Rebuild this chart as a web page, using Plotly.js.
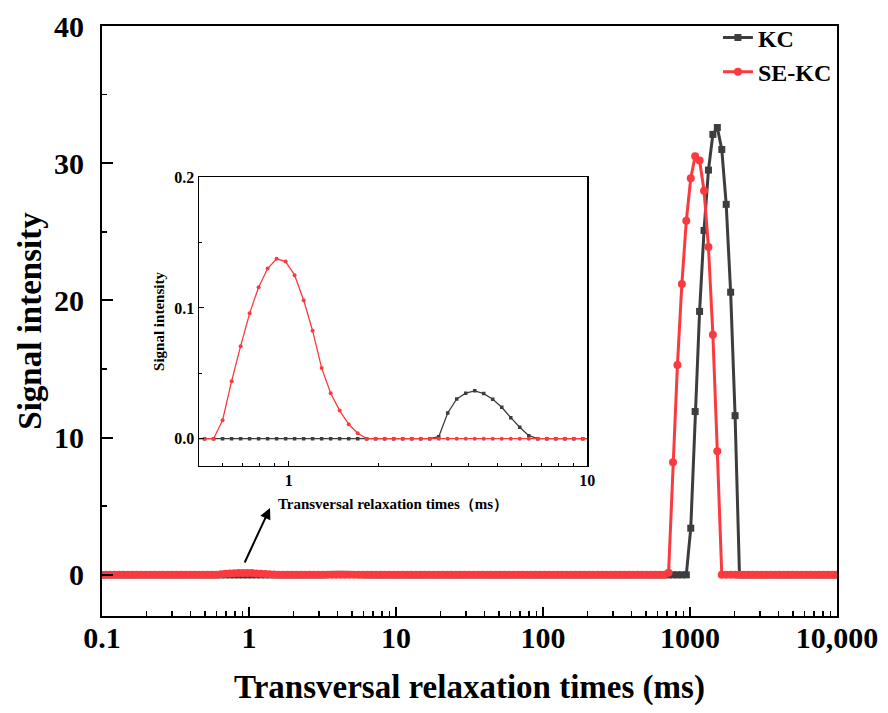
<!DOCTYPE html>
<html>
<head>
<meta charset="utf-8">
<script src="https://cdn.plot.ly/plotly-3.0.1.min.js"></script>
<style>html,body{margin:0;padding:0;background:#fff;}#chart{width:888px;height:713px;}</style>
</head>
<body>
<div id="chart"></div>
<script>
// Transverse relaxation time grid (ms)
var t2 = [
  0.09885,0.1060,0.1136,0.1217,0.1305,0.1399,0.1499,0.1607,0.1723,0.1846,0.1979,0.2122,0.2274,0.2438,0.2613,0.2801,0.3002,0.3218,0.3449,0.3697,0.3963,0.4248,0.4553,0.4880,0.5231,0.5607,0.6010,0.6443,0.6906,0.7402,0.7934,0.8505,0.9116,0.9772,
  1.047,1.123,1.203,1.290,1.383,1.482,1.589,1.703,1.825,1.956,2.097,2.248,2.409,2.583,2.768,2.967,3.181,3.409,3.654,3.917,4.199,4.500,4.824,5.171,5.542,5.941,6.368,6.826,7.317,7.842,8.406,9.010,9.659,
  10.35,11.10,11.90,12.75,13.67,14.65,15.70,16.83,18.04,19.34,20.73,22.22,23.82,25.53,27.36,29.33,31.44,33.70,36.12,38.72,41.50,44.49,47.69,51.11,54.79,58.73,62.95,67.48,72.33,77.53,83.10,89.07,95.48,
  102.3,109.7,117.6,126.0,135.1,144.8,155.2,166.4,178.3,191.2,204.9,219.6,235.4,252.4,270.5,289.9,310.8,333.1,357.1,382.7,410.3,439.8,471.4,505.3,541.6,580.5,622.3,667.0,714.9,766.3,821.4,880.5,943.8,
  1012,1084,1162,1246,1335,1431,1534,1645,1763,1890,2026,2171,2327,2495,2674,2866,3072,3293,3530,3783,4055,4347,4659,4994,5354,5738,6151,6593,7067,7575,8120,8703,9329,10000
];

// KC signal intensity
var kc = [
  0,0,0,0,0,0,0,0,0,0, 0,0,0,0,0,0,0,0,0,0, 0,0,0,0,0,0,0,0,0,0, 0,0,0,0,
  0,0,0,0,0,0,0,0,0,0, 0,0,0,0,0,0, 0.0015,0.0197,0.0304,0.0348,0.0366,0.0345,0.0302,0.0240,0.0161,0.0087,0.0023, 0,0,0,0,0,0,
  0,0,0,0,0,0,0,0,0,0, 0,0,0,0,0,0,0,0,0,0, 0,0,0,0,0,0,0,0,0,0, 0,0,0,
  0,0,0,0,0,0,0,0,0,0, 0,0,0,0,0,0,0,0,0,0, 0,0,0,0,0,0,0,0,0,0, 0,0,0,
  3.4,11.9,19.2,25.1,29.5,32.1,32.6,31.0,27.0,20.6,11.6, 0,0,0,0,0,0,0,0,0,0, 0,0,0,0,0,0,0,0,0,0, 0,0,0
];

// SE-KC signal intensity
var sekc = [
  0,0,0,0,0,0,0,0,0,0, 0,0,0,0,0,0,0,0,0,0, 0,0,0,0,0,0, 0.0141,0.0440,0.0708,0.0959,0.1159,0.1302,0.1376,0.1355,
  0.1251,0.1059,0.0826,0.0540,0.0348,0.0215,0.0110,0.0041, 0,0,0,0,0,0,0,0,0,0, 0,0,0,0,0,0,0,0,0,0, 0,0,0,0,0,
  0,0,0,0,0,0,0,0,0,0, 0,0,0,0,0,0,0,0,0,0, 0,0,0,0,0,0,0,0,0,0, 0,0,0,
  0,0,0,0,0,0,0,0,0,0, 0,0,0,0,0,0,0,0,0,0, 0,0,0,0,0,0,0,0, 0.15,8.2,15.3,21.2,25.8,
  28.9,30.5,30.2,28.0,23.9,17.5,9.0, 0,0,0,0,0,0,0,0,0,0, 0,0,0,0,0,0,0,0,0,0, 0,0,0,0,0,0,0
];

var seriesNames = ['KC', 'SE-KC'];
var mainXTicks = [0.1, 1, 10, 100, 1000, 10000];
var mainXTickText = ['0.1', '1', '10', '100', '1000', '10,000'];
var mainXMinor = [0.2,0.3,0.4,0.5,0.6,0.7,0.8,0.9, 2,3,4,5,6,7,8,9, 20,30,40,50,60,70,80,90, 200,300,400,500,600,700,800,900, 2000,3000,4000,5000,6000,7000,8000,9000];
var insetXTicks = [1, 10];
var insetXTickText = ['1', '10'];
var insetXMinor = [0.6,0.7,0.8,0.9, 2,3,4,5,6,7,8,9];
var insetYTicks = [0, 0.1, 0.2];
var insetYTickText = ['0.0', '0.1', '0.2'];
var insetYMinor = [0.05, 0.15];

var GRAY = '#3d3d3d';
var RED = '#fa3a3e';
var FONT = 'Liberation Serif, Times New Roman, serif';

var traces = [
  {x: t2, y: kc, name: seriesNames[0], type: 'scatter', mode: 'lines+markers',
   line: {color: GRAY, width: 3}, marker: {symbol: 'square', size: 7, color: GRAY},
   xaxis: 'x', yaxis: 'y'},
  {x: t2, y: sekc, name: seriesNames[1], type: 'scatter', mode: 'lines+markers',
   line: {color: RED, width: 3}, marker: {symbol: 'circle', size: 8, color: RED},
   xaxis: 'x', yaxis: 'y'},
  {x: t2, y: kc, name: seriesNames[0], type: 'scatter', mode: 'lines+markers', showlegend: false,
   line: {color: GRAY, width: 1.3}, marker: {symbol: 'square', size: 3.5, color: GRAY},
   xaxis: 'x2', yaxis: 'y2'},
  {x: t2, y: sekc, name: seriesNames[1], type: 'scatter', mode: 'lines+markers', showlegend: false,
   line: {color: RED, width: 1.3}, marker: {symbol: 'circle', size: 4, color: RED},
   xaxis: 'x2', yaxis: 'y2'}
];

var layout = {
  width: 888, height: 713,
  margin: {l: 102, r: 51, t: 26, b: 97},
  paper_bgcolor: '#ffffff', plot_bgcolor: '#ffffff',
  font: {family: FONT, color: '#000'},
  showlegend: true,
  legend: {x: 0.838, y: 1.018, xanchor: 'left', yanchor: 'top', bgcolor: 'rgba(0,0,0,0)',
           font: {family: FONT, size: 24, color: '#000', weight: 'bold'}, tracegroupgap: 0},
  xaxis: {
    type: 'log', range: [-1, 4], domain: [0, 1], anchor: 'y',
    showline: true, linecolor: '#000', linewidth: 2, mirror: true,
    showgrid: false, zeroline: false,
    ticks: 'inside', ticklen: 9, tickwidth: 2, tickcolor: '#000',
    tickmode: 'array', tickvals: mainXTicks, ticktext: mainXTickText,
    ticklabelstandoff: -6,
    tickfont: {family: FONT, size: 30, color: '#000', weight: 'bold'},
    minor: {tickmode: 'array', tickvals: mainXMinor, ticks: 'inside', ticklen: 5, tickwidth: 1.5, tickcolor: '#000', showgrid: false},
    title: {text: 'Transversal relaxation times (ms)', standoff: 22,
            font: {family: FONT, size: 33, color: '#000', weight: 'bold'}}
  },
  yaxis: {
    range: [-3, 40], domain: [0, 1], anchor: 'x',
    showline: true, linecolor: '#000', linewidth: 2, mirror: true,
    showgrid: false, zeroline: false,
    ticks: 'inside', ticklen: 11, tickwidth: 2, tickcolor: '#000',
    tickmode: 'linear', tick0: 0, dtick: 10,
    ticklabelstandoff: 10,
    tickfont: {family: FONT, size: 30, color: '#000', weight: 'bold'},
    minor: {dtick: 5, tick0: 0, ticks: 'inside', ticklen: 5, tickwidth: 1.5, tickcolor: '#000', showgrid: false},
    title: {text: 'Signal intensity', standoff: 2,
            font: {family: FONT, size: 33, color: '#000', weight: 'bold'}}
  },
  xaxis2: {
    type: 'log', range: [Math.log10(0.5), 1], domain: [0.1316, 0.6603], anchor: 'y2',
    showline: true, linecolor: '#000', linewidth: 1.2, mirror: true,
    showgrid: false, zeroline: false,
    ticks: 'inside', ticklen: 5, tickwidth: 1, tickcolor: '#000',
    tickmode: 'array', tickvals: insetXTicks, ticktext: insetXTickText,
    tickfont: {family: FONT, size: 16, color: '#000', weight: 'bold'},
    minor: {tickmode: 'array', tickvals: insetXMinor, ticks: 'inside', ticklen: 3, tickwidth: 1, tickcolor: '#000', showgrid: false},
    title: {text: 'Transversal relaxation times（ms）', standoff: 10,
            font: {family: FONT, size: 15, color: '#000', weight: 'bold'}}
  },
  yaxis2: {
    range: [-0.0207, 0.2], domain: [0.2547, 0.7436], anchor: 'x2',
    showline: true, linecolor: '#000', linewidth: 1.2, mirror: true,
    showgrid: false, zeroline: false,
    ticks: 'inside', ticklen: 5, tickwidth: 1, tickcolor: '#000',
    tickmode: 'array', tickvals: insetYTicks, ticktext: insetYTickText,
    tickfont: {family: FONT, size: 16, color: '#000', weight: 'bold'},
    minor: {tickmode: 'array', tickvals: insetYMinor, ticks: 'inside', ticklen: 3, tickwidth: 1, tickcolor: '#000', showgrid: false},
    title: {text: 'Signal intensity', standoff: 6,
            font: {family: FONT, size: 15, color: '#000', weight: 'bold'}}
  },
  annotations: [
    {xref: 'paper', yref: 'paper', x: 0.2286, y: 0.1831, text: '', showarrow: true,
     ax: -26, ay: 56, arrowhead: 2, arrowsize: 1.1, arrowwidth: 2, arrowcolor: '#000', standoff: 0}
  ]
};

Plotly.newPlot('chart', traces, layout, {displayModeBar: false, staticPlot: true});
</script>
</body>
</html>
